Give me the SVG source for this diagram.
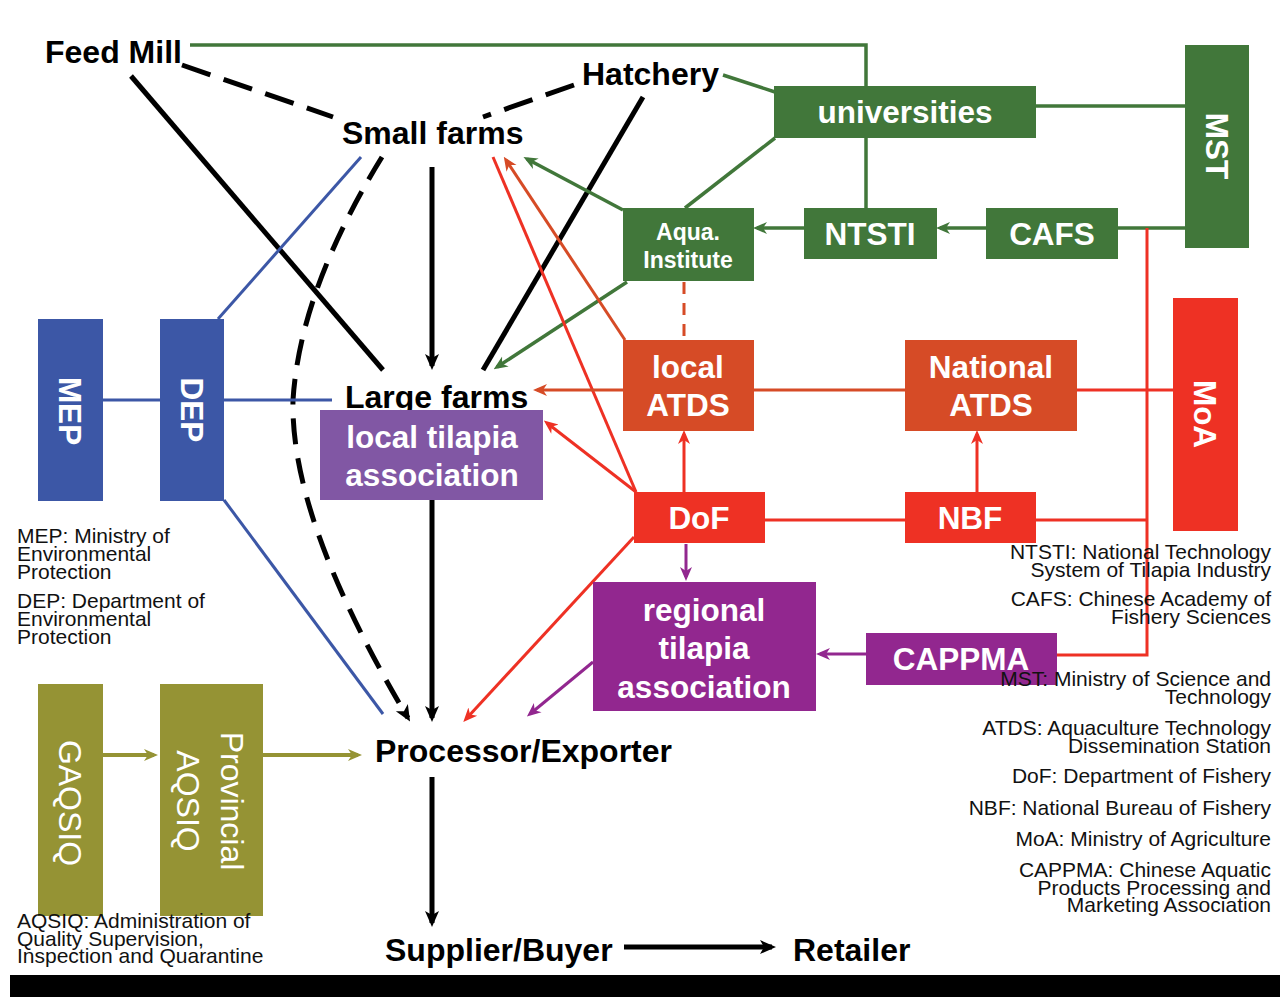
<svg xmlns="http://www.w3.org/2000/svg" width="1280" height="997" viewBox="0 0 1280 997">
<style>
.lbl{font-family:"Liberation Sans",Arial,sans-serif;font-weight:bold;font-size:32px;fill:#000}
.wt{font-family:"Liberation Sans",Arial,sans-serif;font-weight:bold;font-size:31.5px;fill:#fff;text-anchor:middle}
.wr{font-family:"Liberation Sans",Arial,sans-serif;font-size:32px;fill:#fff;text-anchor:middle}
.leg{font-family:"Liberation Sans",Arial,sans-serif;font-size:21px;fill:#111}
.end{text-anchor:end}
.k{stroke:#000;stroke-width:5;fill:none}
.kd{stroke-dasharray:30 14}
.g{stroke:#41773A;stroke-width:3.5;fill:none}
.b{stroke:#3C57A6;stroke-width:3;fill:none}
.r{stroke:#EE3124;stroke-width:3;fill:none}
.o{stroke:#D64B26;stroke-width:3;fill:none}
.p{stroke:#92278F;stroke-width:3;fill:none}
.ol{stroke:#959334;stroke-width:4;fill:none}
.fg{fill:#41773A}.fb{fill:#3C57A6}.fr{fill:#EE3124}.fo{fill:#D64B26}.fp{fill:#92278F}.fl{fill:#8157A4}.fy{fill:#959334}
</style>
<defs>
<marker id="ak" viewBox="0 0 16 16" refX="12" refY="8" markerWidth="16" markerHeight="16" orient="auto" markerUnits="userSpaceOnUse"><path d="M0,1 L16,8 L0,15 L4,8 z" fill="#000"/></marker>
<marker id="ag" viewBox="0 0 14 14" refX="10" refY="7" markerWidth="14" markerHeight="14" orient="auto" markerUnits="userSpaceOnUse"><path d="M0,1 L14,7 L0,13 L4,7 z" fill="#41773A"/></marker>
<marker id="ar" viewBox="0 0 14 14" refX="10" refY="7" markerWidth="14" markerHeight="14" orient="auto" markerUnits="userSpaceOnUse"><path d="M0,1 L14,7 L0,13 L4,7 z" fill="#EE3124"/></marker>
<marker id="ao" viewBox="0 0 14 14" refX="10" refY="7" markerWidth="14" markerHeight="14" orient="auto" markerUnits="userSpaceOnUse"><path d="M0,1 L14,7 L0,13 L4,7 z" fill="#D64B26"/></marker>
<marker id="ap" viewBox="0 0 14 14" refX="10" refY="7" markerWidth="14" markerHeight="14" orient="auto" markerUnits="userSpaceOnUse"><path d="M0,1 L14,7 L0,13 L4,7 z" fill="#92278F"/></marker>
<marker id="ay" viewBox="0 0 14 14" refX="10" refY="7" markerWidth="14" markerHeight="14" orient="auto" markerUnits="userSpaceOnUse"><path d="M0,1 L14,7 L0,13 L4,7 z" fill="#959334"/></marker>
</defs>
<rect width="1280" height="997" fill="#fff"/>

<g id="connectors">
  <!-- black -->
  <path class="k kd" d="M182,65 L333,117"/>
  <path class="k kd" d="M574,85 L483,117"/>
  <path class="k" d="M131,76 L383,370"/>
  <path class="k" d="M643,97 L483,370"/>
  <path class="k" d="M432,167 L432,366" marker-end="url(#ak)"/>
  <path class="k" d="M432,500 L432,718" marker-end="url(#ak)"/>
  <path class="k" d="M382,157 Q300,290 293,400 Q290,520 408,718" stroke-dasharray="26 14" marker-end="url(#ak)"/>
  <path class="k" d="M432,777 L432,923" marker-end="url(#ak)"/>
  <path class="k" d="M624,947 L772,947" marker-end="url(#ak)"/>
  <!-- green -->
  <path class="g" d="M190,45 H866 V86"/>
  <path class="g" d="M866,138 V208"/>
  <path class="g" d="M723,75 L775,92"/>
  <path class="g" d="M775,138 L685,208"/>
  <path class="g" d="M1036,106 H1185"/>
  <path class="g" d="M1118,228 H1185"/>
  <path class="g" d="M986,228 H940" marker-end="url(#ag)"/>
  <path class="g" d="M804,228 H757" marker-end="url(#ag)"/>
  <path class="g" d="M623,210 L527,159" marker-end="url(#ag)"/>
  <path class="g" d="M627,282 L497,367" marker-end="url(#ag)"/>
  <!-- blue -->
  <path class="b" d="M103,400 H160"/>
  <path class="b" d="M224,400 H332"/>
  <path class="b" d="M218,319 L361,157"/>
  <path class="b" d="M224,500 L383,714"/>
  <!-- olive -->
  <path class="ol" d="M103,755 H154" marker-end="url(#ay)"/>
  <path class="ol" d="M263,755 H358" marker-end="url(#ay)"/>
  <!-- red -->
  <path class="r" d="M1147,228 V655 H1057"/>
  <path class="r" d="M1077,390 H1173"/>
  <path class="r" d="M1036,520 H1147"/>
  <path class="r" d="M765,520 H905"/>
  <path class="r" d="M977,492 V434" marker-end="url(#ar)"/>
  <path class="r" d="M684,492 V434" marker-end="url(#ar)"/>
  <path class="r" d="M636,492 L493,157"/>
  <path class="r" d="M636,492 L547,423" marker-end="url(#ar)"/>
  <path class="r" d="M634,537 L466,719" marker-end="url(#ar)"/>
  <!-- orange -->
  <path class="o" d="M754,390 H905"/>
  <path class="o" d="M623,390 H537" marker-end="url(#ao)"/>
  <path class="o" d="M625,340 L506,160" marker-end="url(#ao)"/>
  <path class="o" d="M684,282 V340" stroke-dasharray="12 9"/>
  <!-- purple -->
  <path class="p" d="M686,544 V577" marker-end="url(#ap)"/>
  <path class="p" d="M866,654 H820" marker-end="url(#ap)"/>
  <path class="p" d="M593,662 L530,714" marker-end="url(#ap)"/>
</g>

<g id="feed-mill"><text class="lbl" x="45" y="63">Feed Mill</text></g>
<g id="hatchery"><text class="lbl" x="582" y="85">Hatchery</text></g>
<g id="small-farms"><text class="lbl" x="342" y="144">Small farms</text></g>
<g id="large-farms"><text class="lbl" x="345" y="408">Large farms</text></g>
<g id="local-tilapia-association">
  <rect class="fl" x="320" y="410" width="223" height="90"/>
  <text class="wt" x="432" y="448">local tilapia</text>
  <text class="wt" x="432" y="486">association</text>
</g>
<g id="processor"><text class="lbl" x="375" y="762">Processor/Exporter</text></g>
<g id="supplier"><text class="lbl" x="385" y="961">Supplier/Buyer</text></g>
<g id="retailer"><text class="lbl" x="793" y="961">Retailer</text></g>

<g id="universities"><rect class="fg" x="774" y="86" width="262" height="52"/><text class="wt" x="905" y="123">universities</text></g>
<g id="mst"><rect class="fg" x="1185" y="45" width="64" height="203"/><text class="wt" transform="translate(1217,146) rotate(90)" y="11">MST</text></g>
<g id="aqua-institute"><rect class="fg" x="623" y="208" width="131" height="73"/>
  <text class="wt" x="688" y="240" style="font-size:23px">Aqua.</text>
  <text class="wt" x="688" y="268" style="font-size:23px">Institute</text></g>
<g id="ntsti"><rect class="fg" x="804" y="208" width="133" height="51"/><text class="wt" x="870" y="245">NTSTI</text></g>
<g id="cafs"><rect class="fg" x="986" y="208" width="132" height="51"/><text class="wt" x="1052" y="245">CAFS</text></g>

<g id="local-atds"><rect class="fo" x="623" y="340" width="131" height="91"/>
  <text class="wt" x="688" y="378">local</text><text class="wt" x="688" y="416">ATDS</text></g>
<g id="national-atds"><rect class="fo" x="905" y="340" width="172" height="91"/>
  <text class="wt" x="991" y="378">National</text><text class="wt" x="991" y="416">ATDS</text></g>
<g id="moa"><rect class="fr" x="1173" y="298" width="65" height="233"/><text class="wt" transform="translate(1205,414) rotate(90)" y="11">MoA</text></g>
<g id="dof"><rect class="fr" x="634" y="492" width="131" height="51"/><text class="wt" x="699" y="529">DoF</text></g>
<g id="nbf"><rect class="fr" x="905" y="492" width="131" height="51"/><text class="wt" x="970" y="529">NBF</text></g>
<g id="regional-tilapia-association"><rect class="fp" x="593" y="582" width="223" height="129"/>
  <text class="wt" x="704" y="621">regional</text>
  <text class="wt" x="704" y="659">tilapia</text>
  <text class="wt" x="704" y="698">association</text></g>
<g id="cappma"><rect class="fp" x="866" y="633" width="191" height="52"/><text class="wt" x="961" y="670">CAPPMA</text></g>

<g id="mep"><rect class="fb" x="38" y="319" width="65" height="182"/><text class="wt" transform="translate(70,411) rotate(90)" y="11">MEP</text></g>
<g id="dep"><rect class="fb" x="160" y="319" width="64" height="182"/><text class="wt" transform="translate(192,410) rotate(90)" y="11">DEP</text></g>
<g id="gaqsiq"><rect class="fy" x="38" y="684" width="65" height="232"/><text class="wr" transform="translate(70,803) rotate(90)" y="11.5">GAQSIQ</text></g>
<g id="provincial-aqsiq"><rect class="fy" x="160" y="684" width="103" height="232"/>
  <g transform="translate(211,801) rotate(90)"><text class="wr" y="-9.5">Provincial</text><text class="wr" y="34.5">AQSIQ</text></g></g>

<g id="legend-left" class="leg">
  <text x="17" y="543">MEP: Ministry of</text>
  <text x="17" y="561">Environmental</text>
  <text x="17" y="579">Protection</text>
  <text x="17" y="608">DEP: Department of</text>
  <text x="17" y="626">Environmental</text>
  <text x="17" y="644">Protection</text>
  <text x="17" y="928">AQSIQ: Administration of</text>
  <text x="17" y="946">Quality Supervision,</text>
  <text x="17" y="963">Inspection and Quarantine</text>
</g>
<g id="legend-right" class="leg end">
  <text x="1271" y="559">NTSTI: National Technology</text>
  <text x="1271" y="577">System of Tilapia Industry</text>
  <text x="1271" y="606">CAFS: Chinese Academy of</text>
  <text x="1271" y="624">Fishery Sciences</text>
  <text x="1271" y="686">MST: Ministry of Science and</text>
  <text x="1271" y="704">Technology</text>
  <text x="1271" y="735">ATDS: Aquaculture Technology</text>
  <text x="1271" y="753">Dissemination Station</text>
  <text x="1271" y="783">DoF: Department of Fishery</text>
  <text x="1271" y="815">NBF: National Bureau of Fishery</text>
  <text x="1271" y="846">MoA: Ministry of Agriculture</text>
  <text x="1271" y="877">CAPPMA: Chinese Aquatic</text>
  <text x="1271" y="895">Products Processing and</text>
  <text x="1271" y="912">Marketing Association</text>
</g>
<rect x="10" y="975" width="1270" height="22" fill="#000"/>
</svg>
